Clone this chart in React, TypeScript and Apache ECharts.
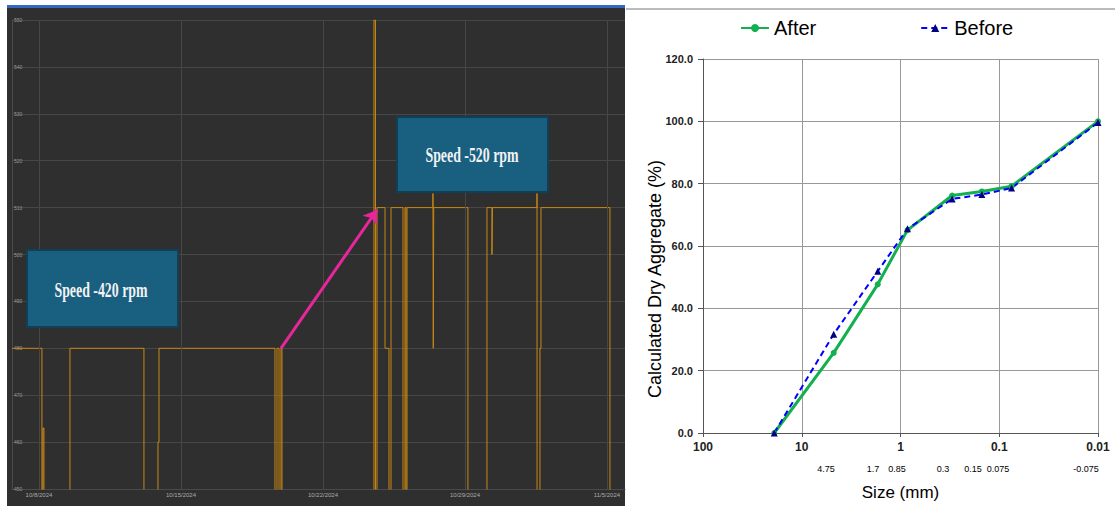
import React, { useEffect, useRef } from 'react';
import * as echarts from 'echarts';

// ---------- Left panel: motor speed time series ----------
const speedTimes = [
  '2024-10-06 16:06', '2024-10-08 03:30', '2024-10-08 04:42', '2024-10-08 05:54',
  '2024-10-09 12:40', '2024-10-13 04:12', '2024-10-13 20:48', '2024-10-13 22:00',
  '2024-10-19 15:12', '2024-10-19 17:36', '2024-10-19 20:00', '2024-10-19 22:18',
  '2024-10-19 23:30', '2024-10-24 12:20', '2024-10-24 14:06', '2024-10-24 15:54',
  '2024-10-25 01:24', '2024-10-25 06:06', '2024-10-25 08:30', '2024-10-25 22:40',
  '2024-10-26 01:00', '2024-10-26 02:12', '2024-10-26 03:24', '2024-10-27 10:06',
  '2024-10-27 10:30', '2024-10-27 11:00', '2024-10-29 03:30', '2024-10-30 02:00',
  '2024-10-30 07:54', '2024-10-30 08:30', '2024-11-01 13:12', '2024-11-01 13:40',
  '2024-11-01 16:42', '2024-11-01 17:54', '2024-11-05 03:30', '2024-11-05 21:18',
];
const speedValues = [
  480, 0, 463, 0,
  480, 0, 460, 480,
  0, 480, 0, 480,
  0, 550, 0, 510,
  480, 0, 510, 0,
  510, 0, 510, 513,
  480, 510, 0, 510,
  500, 510, 513, 0,
  480, 510, 0, 0,
];
const timeRange = ['2024-10-06 16:06', '2024-11-05 21:18'];
const dateTicks = ['2024-10-08', '2024-10-15', '2024-10-22', '2024-10-29', '2024-11-05'];
const dateTickLabels = ['10/8/2024', '10/15/2024', '10/22/2024', '10/29/2024', '11/5/2024'];
const speedAxis = [450, 550, 10];
const arrowFrom = ['2024-10-19 22:18', 480];
const arrowTo = ['2024-10-24 15:54', 509.5];
const boxTexts = ['Speed -420 rpm', 'Speed -520 rpm'];

// ---------- Right panel: gradation curve ----------
const sizes = [19, 4.75, 1.7, 0.85, 0.3, 0.15, 0.075, 0.01];
const afterValues = [0, 25.7, 47.7, 65.1, 76.2, 77.5, 79.2, 100];
const beforeValues = [0, 31.7, 51.9, 65.5, 75.1, 76.5, 78.6, 99.6];
const sieveLabels = ['4.75', '1.7', '0.85', '0.3', '0.15', '0.075', '-0.075'];
const sieveLabelX = [826, 873, 897, 943, 973, 998, 1086];

const toMs = (s: string) => {
  const [d, t = '00:00'] = s.split(' ');
  const [y, m, dd] = d.split('-').map(Number);
  const [h, mi] = t.split(':').map(Number);
  return new Date(y, m - 1, dd, h, mi).getTime();
};

const SANS = 'Liberation Sans, Arial, sans-serif';

export default function App() {
  const ref = useRef<HTMLDivElement>(null);
  useEffect(() => {
    if (!ref.current) return;
    const chart = echarts.init(ref.current, undefined, { renderer: 'svg' });

    const boxStyle = { fill: '#185f80', stroke: '#113f57', lineWidth: 2 };
    const boxText = (x: number, y: number, text: string) => ({
      type: 'text', x, y, scaleX: 0.66, z: 12, silent: true,
      style: {
        text, fontFamily: 'Liberation Serif, Times New Roman, serif', fontSize: 21, fontWeight: 'bold',
        fill: '#f2f2f2', textAlign: 'center', textVerticalAlign: 'middle', align: 'center', verticalAlign: 'middle',
      },
    });

    const option: any = {
      animation: false,
      backgroundColor: '#ffffff',
      graphic: [
        { type: 'rect', z: -1, silent: true, shape: { x: 7, y: 8, width: 618, height: 498 }, style: { fill: '#2f2f2f' } },
        { type: 'rect', z: -1, silent: true, shape: { x: 7, y: 5, width: 618, height: 3 }, style: { fill: '#3567c2' } },
        { type: 'line', silent: true, shape: { x1: 626, y1: 9, x2: 1115, y2: 9 }, style: { stroke: '#777', lineWidth: 1 } },
        { type: 'rect', z: 11, silent: true, shape: { x: 27, y: 250, width: 151, height: 77 }, style: boxStyle },
        boxText(101, 290, boxTexts[0]),
        { type: 'rect', z: 11, silent: true, shape: { x: 397, y: 117, width: 151, height: 75 }, style: boxStyle },
        boxText(472, 155, boxTexts[1]),
        {
          type: 'text', x: 655, y: 279, rotation: Math.PI / 2, silent: true,
          style: {
            text: 'Calculated Dry Aggregate (%)', fontFamily: SANS, fontSize: 18, fill: '#000',
            textAlign: 'center', textVerticalAlign: 'middle', align: 'center', verticalAlign: 'middle',
          },
        },
        ...sieveLabels.map((t, i) => ({
          type: 'text', x: sieveLabelX[i], y: 469, silent: true,
          style: {
            text: t, fontFamily: SANS, fontSize: 9, fill: '#000',
            textAlign: 'center', textVerticalAlign: 'middle', align: 'center', verticalAlign: 'middle',
          },
        })),
      ],
      legend: {
        data: ['After', 'Before'],
        left: 735, top: 13,
        itemWidth: 28, itemHeight: 10, itemGap: 104,
        textStyle: { fontSize: 20, color: '#000', fontFamily: SANS },
      },
      grid: [
        { left: 12, right: 490, top: 20, bottom: 17 },
        { left: 703, right: 17, top: 59, bottom: 69 },
      ],
      xAxis: [
        {
          type: 'time', gridIndex: 0,
          min: toMs(timeRange[0]), max: toMs(timeRange[1]),
          axisLabel: { show: false }, axisTick: { show: false }, splitLine: { show: false },
          axisLine: { lineStyle: { color: '#4a4a4a' } },
        },
        {
          type: 'log', gridIndex: 1, logBase: 10, min: 0.01, max: 100, inverse: true,
          axisLabel: {
            fontSize: 12, fontWeight: 'bold', color: '#222', margin: 8, fontFamily: SANS,
            formatter: (v: number) => String(parseFloat(Number(v).toPrecision(6))),
          },
          axisTick: { show: true, length: 4, lineStyle: { color: '#555' } },
          axisLine: { lineStyle: { color: '#555' } },
          splitLine: { show: true, lineStyle: { color: '#999', width: 1 } },
          minorTick: { show: false }, minorSplitLine: { show: false },
          name: 'Size (mm)', nameLocation: 'middle', nameGap: 51,
          nameTextStyle: { fontSize: 17, color: '#000', fontFamily: SANS },
        },
      ],
      yAxis: [
        {
          type: 'value', gridIndex: 0,
          min: speedAxis[0], max: speedAxis[1], interval: speedAxis[2],
          axisLine: { show: true, lineStyle: { color: '#4a4a4a' } },
          axisTick: { show: false },
          axisLabel: { inside: true, margin: 2, fontSize: 5, color: '#9a9a9a' },
          splitLine: { lineStyle: { color: '#474747', width: 1 } },
        },
        {
          type: 'value', gridIndex: 1, min: 0, max: 120, interval: 20,
          axisLine: { show: true, lineStyle: { color: '#555' } },
          axisTick: { show: true, length: 5, lineStyle: { color: '#555' } },
          axisLabel: { fontSize: 11, fontWeight: 'bold', color: '#222', margin: 10, fontFamily: SANS, formatter: (v: number) => v.toFixed(1) },
          splitLine: { lineStyle: { color: '#999', width: 1 } },
        },
      ],
      series: [
        {
          type: 'line', name: 'Speed', xAxisIndex: 0, yAxisIndex: 0, step: 'end',
          data: speedTimes.map((t, i) => [toMs(t), speedValues[i]]),
          symbol: 'none', showSymbol: false, clip: true, silent: true,
          lineStyle: { color: '#c98812', width: 1 }, itemStyle: { color: '#c98812' },
          markLine: {
            silent: true, symbol: ['none', 'none'], animation: false,
            lineStyle: { color: '#474747', width: 1, type: 'solid' },
            label: { show: true, position: 'start', formatter: '{b}', color: '#aaaaaa', fontSize: 6, distance: 3 },
            emphasis: { disabled: true },
            data: dateTicks.map((d, i) => ({ xAxis: toMs(d), name: dateTickLabels[i] })),
          },
        },
        {
          type: 'line', name: 'arrow', xAxisIndex: 0, yAxisIndex: 0, data: [], silent: true,
          markLine: {
            silent: true, animation: false, symbol: ['none', 'arrow'], symbolSize: 13,
            lineStyle: { color: '#e8269c', width: 3, type: 'solid' },
            label: { show: false }, emphasis: { disabled: true },
            data: [[
              { coord: [toMs(arrowFrom[0] as string), arrowFrom[1]] },
              { coord: [toMs(arrowTo[0] as string), arrowTo[1]] },
            ]],
          },
        },
        {
          type: 'line', name: 'After', xAxisIndex: 1, yAxisIndex: 1,
          data: sizes.map((s, i) => [s, afterValues[i]]),
          symbol: 'circle', symbolSize: 6,
          lineStyle: { color: '#12b04e', width: 3 }, itemStyle: { color: '#12b04e' },
        },
        {
          type: 'line', name: 'Before', xAxisIndex: 1, yAxisIndex: 1,
          data: sizes.map((s, i) => [s, beforeValues[i]]),
          symbol: 'triangle', symbolSize: 7,
          lineStyle: { color: '#0000ff', width: 2, type: [6, 4] }, itemStyle: { color: '#000080' },
        },
      ],
    };
    chart.setOption(option);
    return () => chart.dispose();
  }, []);
  return <div ref={ref} style={{ position: 'absolute', left: 0, top: 0, width: 1115, height: 506 }} />;
}
